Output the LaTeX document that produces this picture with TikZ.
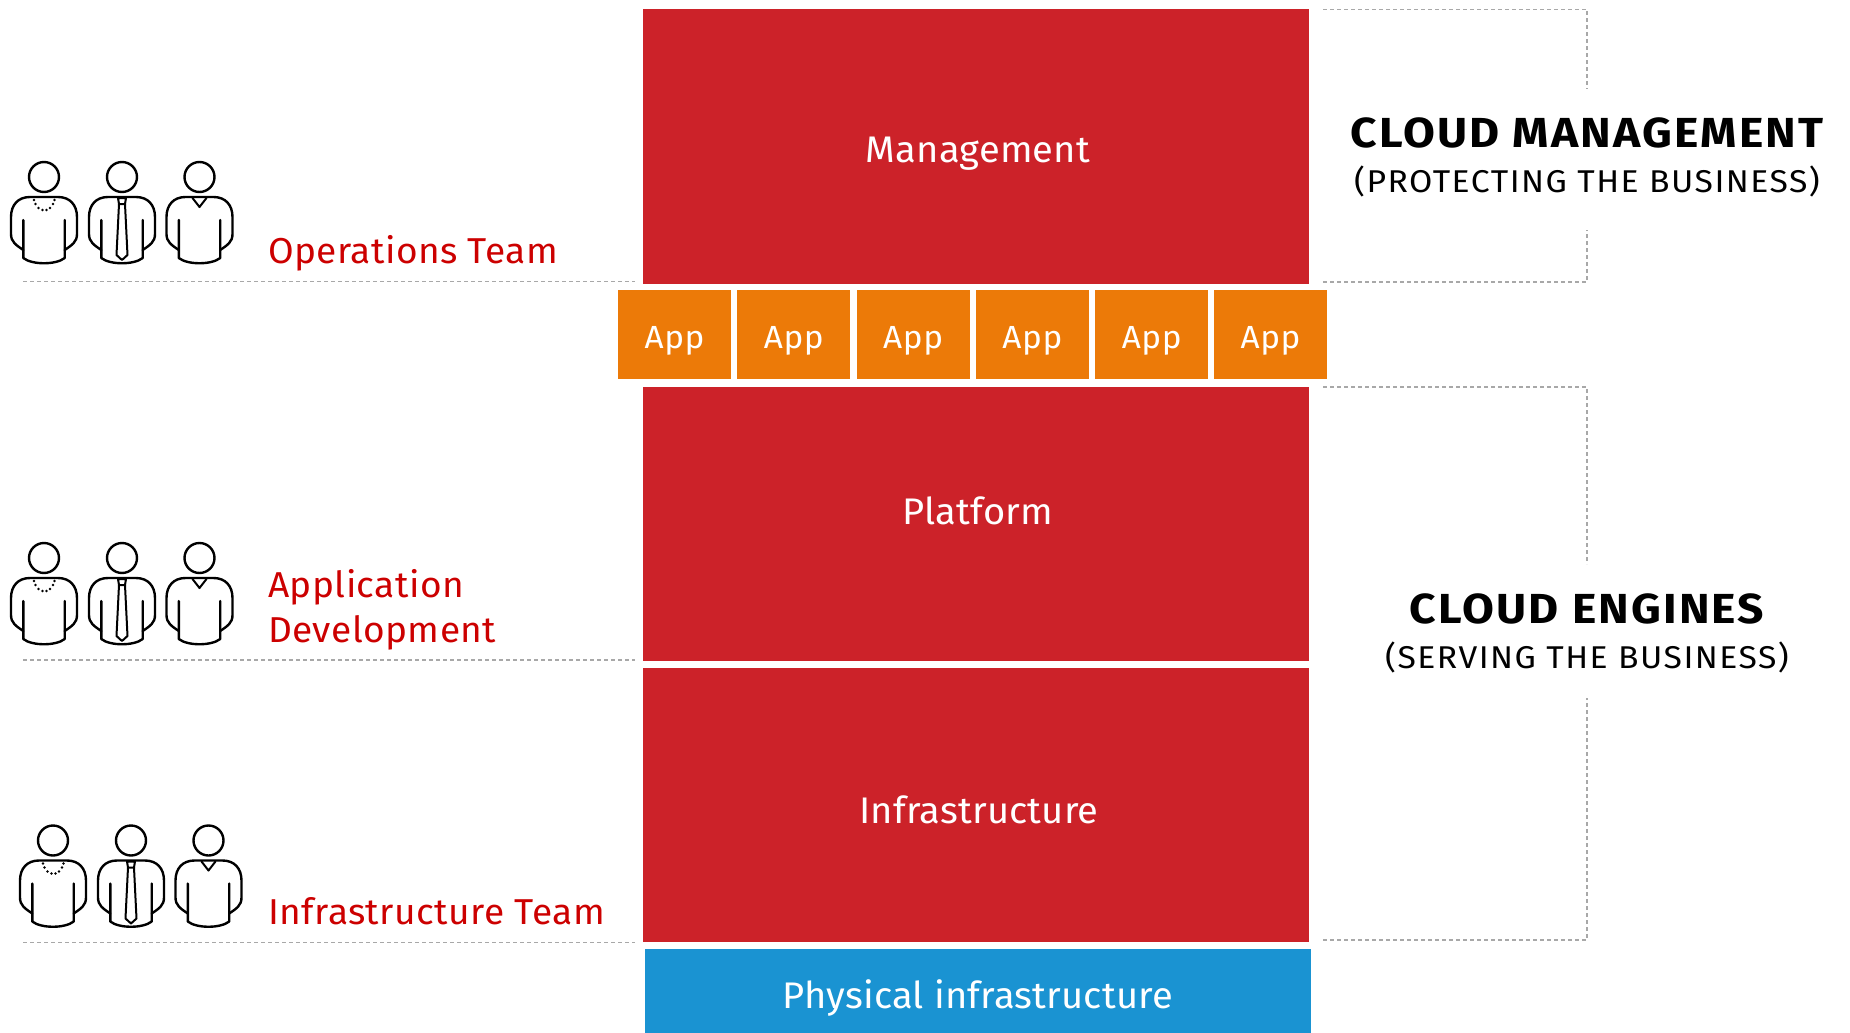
\documentclass[tikz,border=0pt]{standalone}
\usepackage{fontspec}
\setmainfont{Fira Sans}
\definecolor{cred}{HTML}{CC2229}
\definecolor{corange}{HTML}{EC7A08}
\definecolor{cblue}{HTML}{1A93D2}
\definecolor{lblred}{HTML}{CC0000}
\definecolor{dashgrey}{HTML}{A8A8A8}
\tikzset{
 x=1pt,y=-1pt,
 blockbox/.style={fill=cred,draw=none,minimum width=666pt,minimum height=274pt,inner sep=0pt},
 appbox/.style={fill=corange,draw=none,minimum width=113pt,minimum height=89pt,inner sep=0pt,text=white,font=\fontsize{32}{32}\selectfont\addfontfeatures{FakeStretch=1.04,LetterSpace=2}},
 physbox/.style={fill=cblue,draw=none,minimum width=666pt,minimum height=84pt,inner sep=0pt},
 blocktxt/.style={anchor=base,text=white,inner sep=0pt,font=\fontsize{37}{37}\selectfont\addfontfeatures{FakeStretch=1.03,LetterSpace=0.5}},
 teamlabel/.style={text=lblred,anchor=base west,inner sep=0pt,font=\fontsize{36}{36}\selectfont\addfontfeatures{FakeStretch=1.03,LetterSpace=1.2}},
 headtxt/.style={anchor=base,inner sep=0pt,font=\fontsize{42}{42}\selectfont\bfseries\addfontfeatures{FakeStretch=1.1,LetterSpace=5.2}},
 subtxt/.style={anchor=base,inner sep=0pt,font=\fontsize{31.5}{31.5}\selectfont\addfontfeatures{FakeStretch=1.07,LetterSpace=4.7}},
 dashline/.style={draw=dashgrey,line width=1.6pt,dash pattern=on 4pt off 3pt},
 icon/.style={draw=black,line width=2.4pt,line join=round,line cap=round},
 pics/bodyshape/.style={code={
  \draw[icon] (0,0) circle[radius=15];
  \draw[icon] (-20.7,73) .. controls (-28,68) and (-33,65) .. (-33,57) -- (-33,40)
     .. controls (-33,28) and (-26,20) .. (-14,20) -- (14,20)
     .. controls (26,20) and (33,28) .. (33,40) -- (33,57)
     .. controls (33,65) and (28,68) .. (20.7,73);
  \draw[icon] (-20.7,43) -- (-20.7,81) .. controls (-12,88) and (12,88) .. (20.7,81) -- (20.7,43);
 }},
 pics/personA/.style={code={
  \pic {bodyshape};
  \foreach \px/\py in {-10/23,-8.5/27,-5.5/31,-1.5/33,2.5/33,6/31,9/27,10.5/23}
    \fill[black] (\px,\py) circle[radius=1.4];
 }},
 pics/personB/.style={code={
  \pic {bodyshape};
  \draw[icon,line width=2pt] (-4,21) -- (4,21) -- (3,27) -- (-3,27) -- cycle;
  \draw[icon,line width=2pt] (-3,27) -- (-5.5,78) -- (0,83) -- (5.5,78) -- (3,27);
 }},
 pics/personC/.style={code={
  \pic {bodyshape};
  \draw[icon,line width=2pt] (-7,21) -- (0,30) -- (7,21);
 }},
 pics/trio/.style={code={
  \pic at (0,0) {personA};
  \pic at (78,0) {personB};
  \pic at (155.5,0) {personC};
 }}
}
\begin{document}
\begin{tikzpicture}
\useasboundingbox (0,0) rectangle (1850,1033);
\node[blockbox] (mgmt) at (976,146.5) {};
\node[blockbox] (plat) at (976,524) {};
\node[blockbox] (infra) at (976,805) {};
\node[physbox] (phys) at (978,991) {};
\node[blocktxt] (tm) at (978,162.5) {Management};
\node[blocktxt] (tp) at (978,524.5) {Platform};
\node[blocktxt] (ti) at (979,823) {Infrastructure};
\node[blocktxt] (tf) at (978,1008) {Physical infrastructure};
\foreach \i/\cx in {1/674.5,2/793.8,3/913.1,4/1032.4,5/1151.7,6/1270.5}
  \node[appbox] (app\i) at (\cx,334.5) {\raisebox{-13.5pt}[0pt][0pt]{App}};
% left rules
\coordinate (l1) at (23,281.5); \coordinate (r1) at (635,281.5);
\coordinate (l2) at (23,660); \coordinate (r2) at (635,660);
\coordinate (l3) at (23,942.5); \coordinate (r3) at (635,942.5);
\draw[dashline] (l1) -- (r1);
\draw[dashline] (l2) -- (r2);
\draw[dashline] (l3) -- (r3);
% brackets
\coordinate (a1) at (1323,9.5); \coordinate (a2) at (1587,9.5); \coordinate (a3) at (1587,89);
\coordinate (b1) at (1323,282); \coordinate (b2) at (1587,282); \coordinate (b3) at (1587,230);
\coordinate (c1) at (1323,387); \coordinate (c2) at (1587,387); \coordinate (c3) at (1587,564);
\coordinate (d1) at (1323,940); \coordinate (d2) at (1587,940); \coordinate (d3) at (1587,698);
\draw[dashline] (a1) -- (a2) -- (a3);
\draw[dashline] (b1) -- (b2) -- (b3);
\draw[dashline] (c1) -- (c2) -- (c3);
\draw[dashline] (d1) -- (d2) -- (d3);
% people
\pic at (44,177) {trio};
\pic at (44,558) {trio};
\pic at (53,840.5) {trio};
% labels
\node[teamlabel] (n1) at (268,263) {Operations Team};
\node[teamlabel] (n2) at (268,597) {Application};
\node[teamlabel] (n3) at (268,642) {Development};
\node[teamlabel] (n4) at (268,924) {Infrastructure Team};
\node[headtxt] (h1) at (1587,147) {CLOUD MANAGEMENT};
\node[subtxt] (s1) at (1587,192) {(PROTECTING THE BUSINESS)};
\node[headtxt] (h2) at (1587,623) {CLOUD ENGINES};
\node[subtxt] (s2) at (1587,668) {(SERVING THE BUSINESS)};
\end{tikzpicture}
\end{document}
